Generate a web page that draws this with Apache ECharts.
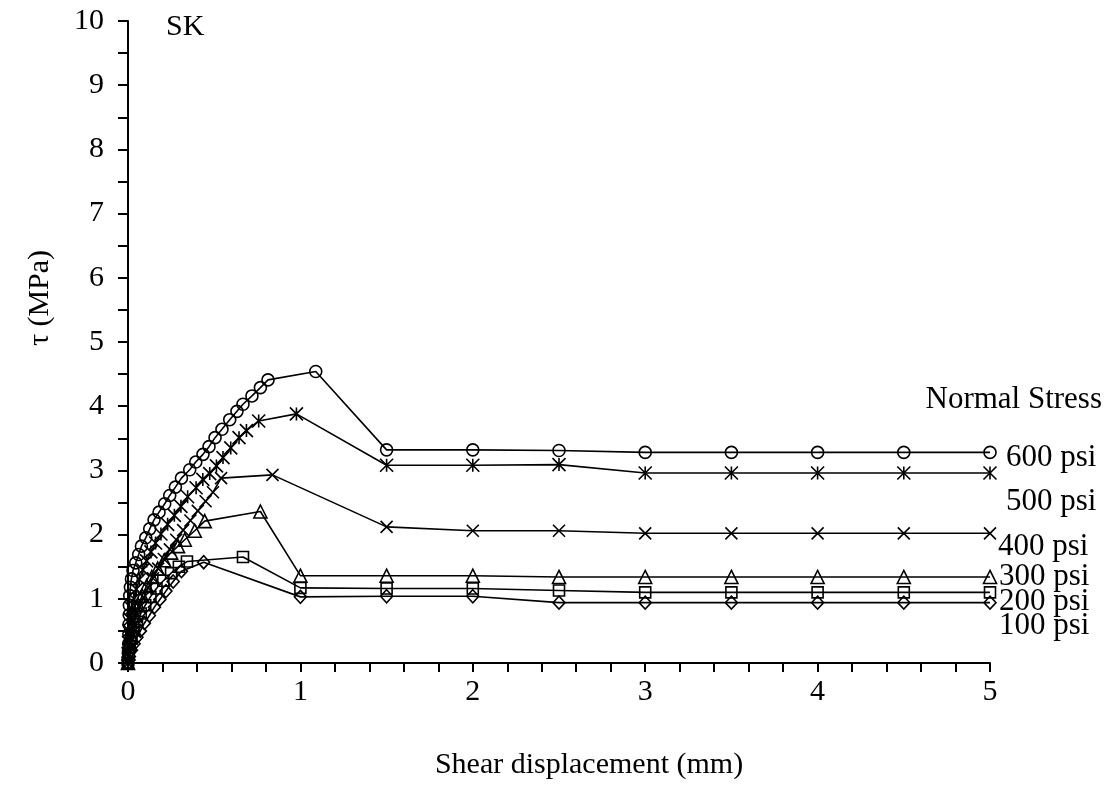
<!DOCTYPE html>
<html>
<head>
<meta charset="utf-8">
<script src="https://cdn.jsdelivr.net/npm/echarts@6/dist/echarts.min.js"></script>
<style>
  html, body { margin: 0; padding: 0; background: #fff; }
  #chart { width: 1112px; height: 812px; }
</style>
</head>
<body>
<div id="chart"></div>
<script>
// Shear stress vs. shear displacement, sample SK, one curve per normal stress.
// Each point is [shear displacement (mm), shear stress (MPa)].
const stress100 = [
  [0, 0], [0.008, 0.1], [0.02, 0.2], [0.035, 0.3], [0.052, 0.4], [0.072, 0.5],
  [0.095, 0.62], [0.124, 0.74], [0.153, 0.87], [0.185, 0.99], [0.22, 1.12],
  [0.262, 1.27], [0.31, 1.43], [0.439, 1.57],
  [1, 1.03], [1.5, 1.04], [2, 1.04], [2.5, 0.94], [3, 0.94], [3.5, 0.94],
  [4, 0.94], [4.5, 0.94], [5, 0.94]
];
const stress200 = [
  [0, 0], [0.004, 0.12], [0.01, 0.25], [0.02, 0.38], [0.034, 0.51], [0.052, 0.64],
  [0.074, 0.77], [0.1, 0.9], [0.13, 1.03], [0.165, 1.16], [0.205, 1.28],
  [0.25, 1.4], [0.295, 1.5], [0.342, 1.58], [0.667, 1.65],
  [1, 1.17], [1.5, 1.16], [2, 1.16], [2.5, 1.13], [3, 1.1], [3.5, 1.1],
  [4, 1.1], [4.5, 1.1], [5, 1.1]
];
const stress300 = [
  [0, 0], [0.003, 0.15], [0.008, 0.3], [0.016, 0.45], [0.027, 0.6], [0.042, 0.75],
  [0.06, 0.9], [0.082, 1.05], [0.108, 1.2], [0.138, 1.34], [0.172, 1.47],
  [0.21, 1.6], [0.25, 1.72], [0.29, 1.82], [0.329, 1.92], [0.387, 2.06],
  [0.445, 2.21], [0.768, 2.36],
  [1, 1.36], [1.5, 1.36], [2, 1.36], [2.5, 1.34], [3, 1.34], [3.5, 1.34],
  [4, 1.34], [4.5, 1.34], [5, 1.34]
];
const stress400 = [
  [0, 0], [0.005, 0.22], [0.014, 0.4], [0.028, 0.56], [0.046, 0.72], [0.067, 0.87],
  [0.09, 1.02], [0.117, 1.17], [0.145, 1.32], [0.175, 1.47], [0.208, 1.62],
  [0.243, 1.77], [0.28, 1.92], [0.32, 2.07], [0.362, 2.22], [0.405, 2.37],
  [0.45, 2.52], [0.493, 2.66], [0.54, 2.88], [0.838, 2.93],
  [1.5, 2.12], [2, 2.06], [2.5, 2.06], [3, 2.02], [3.5, 2.02],
  [4, 2.02], [4.5, 2.02], [5, 2.02]
];
const stress500 = [
  [0, 0], [0.001, 0.15], [0.003, 0.32], [0.006, 0.5], [0.012, 0.68], [0.021, 0.85],
  [0.033, 1.0], [0.048, 1.15], [0.066, 1.3], [0.086, 1.45], [0.108, 1.59],
  [0.133, 1.73], [0.16, 1.87], [0.191, 2.01], [0.23, 2.16], [0.269, 2.3],
  [0.307, 2.44], [0.346, 2.59], [0.395, 2.73], [0.434, 2.86], [0.474, 2.95],
  [0.513, 3.07], [0.551, 3.2], [0.596, 3.35], [0.644, 3.51], [0.687, 3.62],
  [0.758, 3.77], [0.977, 3.88],
  [1.5, 3.08], [2, 3.08], [2.5, 3.09], [3, 2.96], [3.5, 2.96],
  [4, 2.96], [4.5, 2.96], [5, 2.96]
];
const stress600 = [
  [0, 0], [0.002, 0.15], [0.004, 0.3], [0.005, 0.45], [0.006, 0.6], [0.007, 0.75],
  [0.008, 0.9], [0.01, 1.05], [0.014, 1.18], [0.02, 1.31], [0.029, 1.44],
  [0.045, 1.56], [0.062, 1.69], [0.078, 1.82], [0.103, 1.95], [0.126, 2.09],
  [0.151, 2.23], [0.18, 2.35], [0.213, 2.48], [0.242, 2.61], [0.275, 2.74],
  [0.31, 2.88], [0.358, 3.01], [0.393, 3.13], [0.435, 3.25], [0.47, 3.37],
  [0.505, 3.51], [0.545, 3.64], [0.59, 3.79], [0.632, 3.92], [0.667, 4.03],
  [0.719, 4.16], [0.768, 4.29], [0.812, 4.41], [1.089, 4.54],
  [1.5, 3.32], [2, 3.32], [2.5, 3.31], [3, 3.28], [3.5, 3.28],
  [4, 3.28], [4.5, 3.28], [5, 3.28]
];

const seriesNames = ['100 psi', '200 psi', '300 psi', '400 psi', '500 psi', '600 psi'];
const xTitle = 'Shear displacement (mm)';
const yTitle = 'τ (MPa)';
const panelTag = 'SK';
const legendTitle = 'Normal Stress';

const FONT = '"Liberation Serif", "Times New Roman", serif';
const FS = 30;
const FS_NOTE = 31;

// Outline-only marker shapes
const crossPath = 'path://M0,0L10,10M10,0L0,10';
const starPath = 'path://M1,0L9,10M9,0L1,10M5,0L5,10';

function curve(name, data, symbol, size) {
  return {
    name: name,
    type: 'line',
    data: data,
    symbol: symbol,
    symbolSize: size,
    showAllSymbol: true,
    lineStyle: { color: '#000', width: 1.6 },
    itemStyle: { color: 'transparent', borderColor: '#000', borderWidth: 1.6 },
    emphasis: { disabled: true },
    silent: true,
    z: 2
  };
}

function note(text, x, y, align, size) {
  return {
    type: 'text', x: x, y: y,
    style: {
      text: text, font: (size || FS_NOTE) + 'px ' + FONT, fill: '#000',
      textAlign: align || 'left', textVerticalAlign: 'middle'
    }
  };
}

const chart = echarts.init(document.getElementById('chart'), null, { renderer: 'canvas' });

const option = {
  backgroundColor: '#fff',
  animation: false,
  grid: { left: 128, right: 122, top: 21, bottom: 149, containLabel: false },
  xAxis: {
    type: 'value',
    min: 0, max: 5, interval: 1,
    axisLine: { show: true, onZero: false, lineStyle: { color: '#000', width: 2 } },
    axisTick: { show: true, inside: false, length: 9, lineStyle: { color: '#000', width: 2 } },
    minorTick: { show: true, splitNumber: 5, length: 9, lineStyle: { color: '#000', width: 2 } },
    splitLine: { show: false },
    axisLabel: { color: '#000', fontFamily: FONT, fontSize: FS, margin: 14 }
  },
  yAxis: {
    type: 'value',
    min: 0, max: 10, interval: 1,
    axisLine: { show: true, onZero: false, lineStyle: { color: '#000', width: 2 } },
    axisTick: { show: true, inside: false, length: 10, lineStyle: { color: '#000', width: 2 } },
    minorTick: { show: true, splitNumber: 2, length: 10, lineStyle: { color: '#000', width: 2 } },
    splitLine: { show: false },
    axisLabel: { color: '#000', fontFamily: FONT, fontSize: FS, margin: 24 }
  },
  series: [
    curve(seriesNames[0], stress100, 'diamond', [12, 13]),
    curve(seriesNames[1], stress200, 'rect', 11),
    curve(seriesNames[2], stress300, 'triangle', 13),
    curve(seriesNames[3], stress400, crossPath, 12),
    curve(seriesNames[4], stress500, starPath, 13),
    curve(seriesNames[5], stress600, 'circle', 12)
  ],
  graphic: [
    note(panelTag, 166, 27, 'left', FS),
    {
      type: 'text', x: 40, y: 298, rotation: Math.PI / 2,
      style: { text: yTitle, font: FS + 'px ' + FONT, fill: '#000', textAlign: 'center', textVerticalAlign: 'middle' }
    },
    note(xTitle, 589, 765, 'center', FS),
    note(legendTitle, 1102, 400, 'right'),
    note(seriesNames[5], 1006, 458),
    note(seriesNames[4], 1006, 502),
    note(seriesNames[3], 998, 547),
    note(seriesNames[2], 999, 577),
    note(seriesNames[1], 999, 602),
    note(seriesNames[0], 999, 626)
  ]
};

chart.setOption(option);
</script>
</body>
</html>
